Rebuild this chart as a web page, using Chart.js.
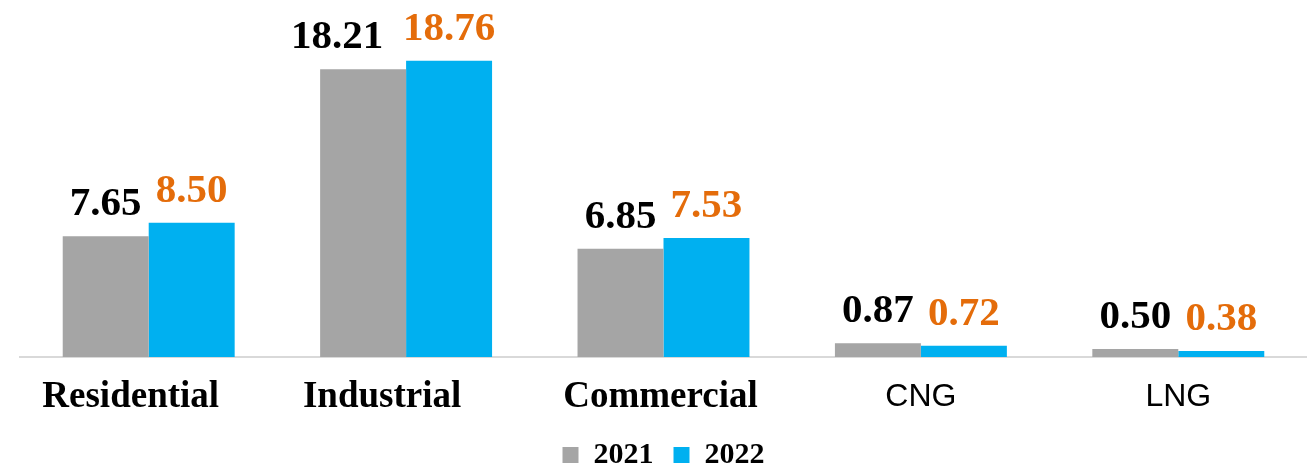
<!DOCTYPE html>
<html>
<head>
<meta charset="utf-8">
<script src="https://cdn.jsdelivr.net/npm/chart.js@4"></script>
<style>
  html, body { margin: 0; padding: 0; background: #fff; }
  #wrap { width: 1307px; height: 466px; }
</style>
</head>
<body>
<div id="wrap"><canvas id="gas-chart"></canvas></div>
<script>
const categories = ['Residential', 'Industrial', 'Commercial', 'CNG', 'LNG'];
const values2021 = [7.65, 18.21, 6.85, 0.87, 0.50];
const values2022 = [8.50, 18.76, 7.53, 0.72, 0.38];
const seriesNames = ['2021', '2022'];

const serif = '"Liberation Serif", "Times New Roman", serif';
const sans = '"Liberation Sans", Arial, sans-serif';

// value labels above each bar, first series black, second orange
const barValueLabels = {
  id: 'barValueLabels',
  afterDatasetsDraw(chart, args, opts) {
    const c = chart.ctx;
    c.save();
    c.font = 'bold 41px ' + serif;
    c.textAlign = 'center';
    c.textBaseline = 'alphabetic';
    chart.data.datasets.forEach((ds, i) => {
      const meta = chart.getDatasetMeta(i);
      meta.data.forEach((bar, j) => {
        const shift = (opts.shift[i] && opts.shift[i][j]) || 0;
        c.fillStyle = opts.colors[i];
        c.fillText(ds.data[j].toFixed(2), bar.x + shift, bar.y - 21);
      });
    });
    c.restore();
  },
};

// category names under the axis; the first three are set in bold serif
const categoryLabels = {
  id: 'categoryLabels',
  afterDraw(chart, args, opts) {
    const c = chart.ctx;
    const xs = chart.scales.x;
    c.save();
    c.fillStyle = '#000';
    c.textAlign = 'center';
    c.textBaseline = 'middle';
    chart.data.labels.forEach((name, j) => {
      c.font = j < 3 ? 'bold 37px ' + serif : '32px ' + sans;
      c.fillText(name, xs.getPixelForValue(j) + (opts.shift[j] || 0), xs.top + opts.gap);
    });
    c.restore();
  },
};

const ctx = document.getElementById('gas-chart').getContext('2d');
new Chart(ctx, {
  type: 'bar',
  data: {
    labels: categories,
    datasets: [
      {
        label: seriesNames[0],
        data: values2021,
        backgroundColor: '#a5a5a5',
        categoryPercentage: 0.668,
        barPercentage: 1,
      },
      {
        label: seriesNames[1],
        data: values2022,
        backgroundColor: '#00b0f0',
        categoryPercentage: 0.668,
        barPercentage: 1,
      },
    ],
  },
  options: {
    responsive: true,
    maintainAspectRatio: false,
    animation: false,
    layout: { padding: { left: 20, right: 0, top: 0, bottom: -14 } },
    scales: {
      x: {
        grid: { display: false, drawTicks: false },
        border: { display: true, color: '#d9d9d9', width: 2 },
        ticks: { display: false },
        afterFit: (s) => { s.height = 63; },
      },
      y: {
        display: false,
        min: 0,
        max: 22.6,
      },
    },
    plugins: {
      legend: {
        position: 'bottom',
        labels: {
          color: '#000',
          boxWidth: 16,
          boxHeight: 16,
          padding: 20,
          font: { family: serif, size: 30, weight: 'bold' },
        },
      },
      tooltip: { enabled: false },
      barValueLabels: {
        colors: ['#000000', '#e46c0a'],
        shift: [[0, -26, 0, 0, 0], [0, 0, 0, 0, 0]],
      },
      categoryLabels: {
        gap: 40,
        shift: [-18, -24, -3, 0, 0],
      },
    },
  },
  plugins: [barValueLabels, categoryLabels],
});
</script>
</body>
</html>
